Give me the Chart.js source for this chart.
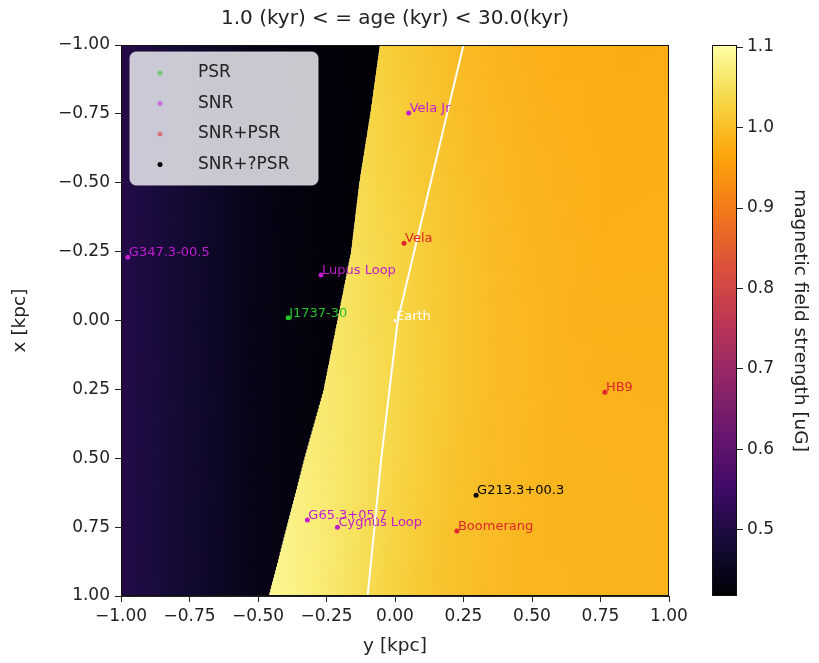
<!DOCTYPE html>
<html>
<head>
<meta charset="utf-8">
<script src="https://cdn.jsdelivr.net/npm/chart.js@4.4.0/dist/chart.umd.min.js"></script>
<style>
  html, body { margin: 0; padding: 0; background: #fff; }
</style>
</head>
<body>
<canvas id="fieldChart" width="819" height="663"></canvas>
<script>
// tick labels
var yTicks = [-1, -0.75, -0.5, -0.25, 0, 0.25, 0.5, 0.75, 1];   // horizontal axis, y [kpc]
var xTicks = [-1, -0.75, -0.5, -0.25, 0, 0.25, 0.5, 0.75, 1];   // vertical axis, x [kpc]
var cbTicks = [0.5, 0.6, 0.7, 0.8, 0.9, 1.0, 1.1];
var cbMin = 0.418, cbMax = 1.1025;

// sources: y (horizontal), x (vertical), name
var psrY = [-0.39];
var psrX = [-0.01];
var psrNames = ['J1737-30'];

var snrY = [-0.975, -0.27, 0.05, -0.32, -0.21];
var snrX = [-0.23, -0.165, -0.753, 0.724, 0.75];
var snrNames = ['G347.3-00.5', 'Lupus Loop', 'Vela Jr', 'G65.3+05.7', 'Cygnus Loop'];

var snrPsrY = [0.033, 0.766, 0.226];
var snrPsrX = [-0.28, 0.26, 0.764];
var snrPsrNames = ['Vela', 'HB9', 'Boomerang'];

var snrQY = [0.296];
var snrQX = [0.634];
var snrQNames = ['G213.3+00.3'];

var earthY = [0.0];
var earthX = [0.0];
var earthNames = ['Earth'];

// white line
var lineRows = [-1, -0.75, -0.5, -0.25, 0, 0.25, 0.5, 0.75, 1];
var lineY = [0.25, 0.19, 0.13, 0.07, 0.01, -0.02, -0.05, -0.075, -0.1];

// field: edge of the dark region, per row x
var boundaryRows = [-1, -0.75, -0.5, -0.25, 0, 0.25, 0.5, 0.75, 1];
var boundaryY = [-0.055, -0.09, -0.13, -0.16, -0.21, -0.26, -0.33, -0.395, -0.46];
// dark side, by y
var leftY = [-1, -0.75, -0.5, -0.25, 0];
var leftVal = [0.51, 0.475, 0.44, 0.425, 0.42];
// bright side, by distance from the edge (top row / bottom row)
var rightDist = [0, 0.1, 0.25, 0.4, 0.6, 0.9, 1.5];
var rightTopVal = [1.025, 1.012, 0.998, 0.988, 0.98, 0.975, 0.98];
var rightBotVal = [1.09, 1.08, 1.06, 1.035, 1.008, 0.99, 0.985];

var infernoStops = [
  [0, 0, 4], [22, 11, 57], [66, 10, 104], [106, 23, 110], [147, 38, 103], [188, 55, 84],
  [221, 81, 58], [243, 120, 25], [252, 165, 10], [246, 215, 70], [252, 255, 164]
];

function interp(xs, ys, v) {
  if (v <= xs[0]) return ys[0];
  for (var i = 1; i < xs.length; i++) {
    if (v <= xs[i]) {
      var f = (v - xs[i - 1]) / (xs[i] - xs[i - 1]);
      return ys[i - 1] + f * (ys[i] - ys[i - 1]);
    }
  }
  return ys[ys.length - 1];
}

function inferno(v) {
  var t = Math.max(0, Math.min(1, (v - cbMin) / (cbMax - cbMin))) * 10;
  var i = Math.min(9, Math.floor(t)), f = t - i;
  var a = infernoStops[i], b = infernoStops[i + 1];
  return 'rgb(' + Math.round(a[0] + f * (b[0] - a[0])) + ',' +
    Math.round(a[1] + f * (b[1] - a[1])) + ',' + Math.round(a[2] + f * (b[2] - a[2])) + ')';
}

function pts(ys, xs) {
  return ys.map(function (v, i) { return { x: v, y: xs[i] }; });
}

function fmt2(v) { return v.toFixed(2).replace('-', '\u2212'); }

var fieldPlugin = {
  id: 'fieldMap',
  beforeDatasetsDraw: function (chart) {
    var ctx = chart.ctx, a = chart.chartArea;
    var sx = chart.scales.x, sy = chart.scales.y;
    var rows = 150, h = (a.bottom - a.top) / rows;
    ctx.save();
    ctx.beginPath();
    ctx.rect(a.left, a.top, a.right - a.left, a.bottom - a.top);
    ctx.clip();
    for (var i = 0; i < rows; i++) {
      var py = a.top + i * h;
      var xv = sy.getValueForPixel(py + h / 2);
      var yb = interp(boundaryRows, boundaryY, xv);
      var pb = sx.getPixelForValue(yb);
      var g = ctx.createLinearGradient(a.left, 0, pb, 0);
      for (var k = 0; k <= 8; k++) {
        var f = k / 8;
        g.addColorStop(f, inferno(interp(leftY, leftVal, -1 + f * (yb + 1))));
      }
      ctx.fillStyle = g;
      ctx.fillRect(a.left, py, pb - a.left, h + 1);
      var t = (xv + 1) / 2;
      var g2 = ctx.createLinearGradient(pb, 0, a.right, 0);
      for (k = 0; k <= 14; k++) {
        f = k / 14;
        var d = f * (1 - yb);
        var v = interp(rightDist, rightTopVal, d) * (1 - t) + interp(rightDist, rightBotVal, d) * t;
        g2.addColorStop(f, inferno(v));
      }
      ctx.fillStyle = g2;
      ctx.fillRect(pb, py, a.right - pb, h + 1);
    }
    ctx.restore();
  },
  afterDatasetsDraw: function (chart) {
    var ctx = chart.ctx, a = chart.chartArea;
    ctx.save();
    // point names
    ctx.font = '13px "DejaVu Sans"';
    ctx.textAlign = 'left';
    ctx.textBaseline = 'alphabetic';
    chart.data.datasets.forEach(function (ds, di) {
      if (!ds.names) return;
      var meta = chart.getDatasetMeta(di);
      meta.data.forEach(function (el, j) {
        ctx.fillStyle = ds.labelColor;
        ctx.fillText(ds.names[j], el.x + 1, el.y - 1);
      });
    });
    // frame
    ctx.strokeStyle = '#111';
    ctx.lineWidth = 1;
    ctx.strokeRect(a.left + 0.5, a.top + 0.5, a.right - a.left - 1, a.bottom - a.top - 1);
    // legend box
    var bx = a.left + 9, by = a.top + 7, bw = 188, bh = 133, r = 6;
    ctx.beginPath();
    ctx.moveTo(bx + r, by);
    ctx.arcTo(bx + bw, by, bx + bw, by + bh, r);
    ctx.arcTo(bx + bw, by + bh, bx, by + bh, r);
    ctx.arcTo(bx, by + bh, bx, by, r);
    ctx.arcTo(bx, by, bx + bw, by, r);
    ctx.closePath();
    ctx.fillStyle = 'rgba(228,228,234,0.88)';
    ctx.fill();
    ctx.strokeStyle = 'rgba(210,210,215,0.9)';
    ctx.stroke();
    ctx.font = '17px "DejaVu Sans"';
    ctx.textBaseline = 'middle';
    var row = 0;
    chart.data.datasets.forEach(function (ds) {
      if (!ds.inLegend) return;
      var cy = by + 21 + row * 30.5;
      ctx.globalAlpha = ds.legendAlpha;
      ctx.fillStyle = ds.backgroundColor;
      ctx.beginPath();
      ctx.arc(bx + 30, cy, 2.5, 0, Math.PI * 2);
      ctx.fill();
      ctx.globalAlpha = 1;
      ctx.fillStyle = '#222';
      ctx.fillText(ds.label, bx + 68, cy);
      row++;
    });
    ctx.restore();
  },
  afterDraw: function (chart) {
    var ctx = chart.ctx, gap = chart.scales.gap, cb = chart.scales.cb;
    var x0 = gap.right - 25, x1 = gap.right;
    var yTop = cb.getPixelForValue(cbMax), yBot = cb.getPixelForValue(cbMin);
    var g = ctx.createLinearGradient(0, yBot, 0, yTop);
    for (var k = 0; k <= 20; k++) {
      g.addColorStop(k / 20, inferno(cbMin + (cbMax - cbMin) * k / 20));
    }
    ctx.save();
    ctx.fillStyle = g;
    ctx.fillRect(x0, yTop, x1 - x0, yBot - yTop);
    ctx.strokeStyle = '#111';
    ctx.lineWidth = 1;
    ctx.strokeRect(x0 + 0.5, yTop + 0.5, x1 - x0 - 1, yBot - yTop - 1);
    ctx.restore();
  }
};

Chart.defaults.font.family = '"DejaVu Sans", sans-serif';
Chart.defaults.color = '#222';

var ctx = document.getElementById('fieldChart').getContext('2d');
var fieldChart = new Chart(ctx, {
  type: 'scatter',
  data: {
    datasets: [
      {
        label: 'white line', data: pts(lineY, lineRows), showLine: true,
        borderColor: '#ffffff', borderWidth: 2, pointRadius: 0, order: 5
      },
      {
        label: 'PSR', data: pts(psrY, psrX), names: psrNames, inLegend: true, legendAlpha: 0.5,
        backgroundColor: '#22c22a', labelColor: '#22c22a', pointRadius: 2.5, borderWidth: 0
      },
      {
        label: 'SNR', data: pts(snrY, snrX), names: snrNames, inLegend: true, legendAlpha: 0.5,
        backgroundColor: '#c21ccf', labelColor: '#c21ccf', pointRadius: 2.5, borderWidth: 0
      },
      {
        label: 'SNR+PSR', data: pts(snrPsrY, snrPsrX), names: snrPsrNames, inLegend: true, legendAlpha: 0.5,
        backgroundColor: '#e0262c', labelColor: '#e0262c', pointRadius: 2.5, borderWidth: 0
      },
      {
        label: 'SNR+?PSR', data: pts(snrQY, snrQX), names: snrQNames, inLegend: true, legendAlpha: 1,
        backgroundColor: '#000000', labelColor: '#000000', pointRadius: 2.5, borderWidth: 0
      },
      {
        label: 'Earth', data: pts(earthY, earthX), names: earthNames,
        backgroundColor: '#ffffff', labelColor: '#ffffff', pointRadius: 1.5, borderWidth: 0
      }
    ]
  },
  options: {
    responsive: false,
    animation: false,
    events: [],
    layout: { padding: { top: 0, left: 0, right: 0, bottom: 0 } },
    plugins: {
      legend: { display: false },
      tooltip: { enabled: false },
      title: {
        display: true,
        text: '1.0 (kyr) < = age (kyr) < 30.0(kyr)',
        fullSize: false,
        color: '#222',
        font: { size: 20, weight: 'normal' },
        padding: { top: 7, bottom: 14 }
      }
    },
    scales: {
      x: {
        type: 'linear', position: 'bottom', min: -1, max: 1,
        afterBuildTicks: function (s) { s.ticks = yTicks.map(function (v) { return { value: v }; }); },
        afterFit: function (s) { s.height = 67; },
        ticks: { callback: fmt2, font: { size: 17 }, color: '#222', padding: 4, maxRotation: 0, autoSkip: false },
        grid: { drawOnChartArea: false, tickLength: 6, color: '#222' },
        border: { color: '#222' },
        title: { display: true, text: 'y [kpc]', font: { size: 18.5 }, color: '#222', padding: { top: 0, bottom: 6 } }
      },
      y: {
        type: 'linear', position: 'left', min: -1, max: 1, reverse: true,
        afterBuildTicks: function (s) { s.ticks = xTicks.map(function (v) { return { value: v }; }); },
        afterFit: function (s) { s.width = 121; },
        ticks: { callback: fmt2, font: { size: 17 }, color: '#222', padding: 5, autoSkip: false },
        grid: { drawOnChartArea: false, tickLength: 6, color: '#222' },
        border: { color: '#222' },
        title: { display: true, text: 'x [kpc]', font: { size: 18.5 }, color: '#222', padding: { top: 9, bottom: 0 } }
      },
      gap: {
        type: 'linear', position: 'right', weight: 0,
        afterFit: function (s) { s.width = 68; },
        ticks: { display: false },
        grid: { display: false },
        border: { display: false }
      },
      cb: {
        type: 'linear', position: 'right', weight: 1, min: cbMin, max: cbMax,
        afterBuildTicks: function (s) { s.ticks = cbTicks.map(function (v) { return { value: v }; }); },
        afterFit: function (s) { s.width = 82; },
        ticks: { callback: function (v) { return v.toFixed(1); }, font: { size: 17 }, color: '#222', padding: 4, autoSkip: false },
        grid: { drawOnChartArea: false, tickLength: 6, color: '#222' },
        border: { display: false },
        title: { display: true, text: 'magnetic field strength [uG]', font: { size: 18.5 }, color: '#222', padding: { top: 8, bottom: 0 } }
      }
    }
  },
  plugins: [fieldPlugin]
});
</script>
</body>
</html>
